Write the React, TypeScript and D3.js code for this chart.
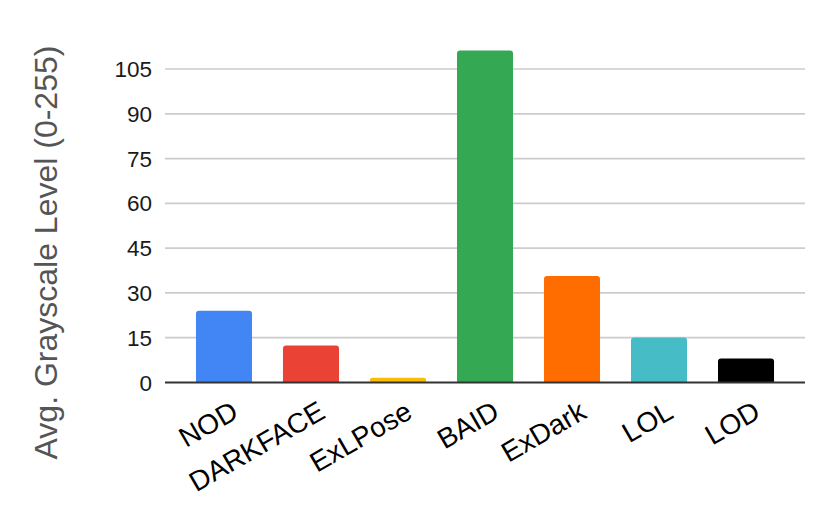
import React from "react";
import * as d3 from "d3";

const categories = ["NOD", "DARKFACE", "ExLPose", "BAID", "ExDark", "LOL", "LOD"];
const values = [24.0, 12.4, 1.6, 111.2, 35.7, 15.1, 8.0];
const colors = ["#4285F4", "#EA4335", "#FBBC04", "#34A853", "#FF6D01", "#46BDC6", "#000000"];
const yTicks = [0, 15, 30, 45, 60, 75, 90, 105];
const yTitle = "Avg. Grayscale Level (0-255)";

const W = 830;
const H = 512;
const left = 165;
const right = 805;
const y0 = 382.5;

function roundedTopBar(x: number, y: number, w: number, h: number, r: number) {
  const rr = Math.min(r, h / 2, w / 2);
  const p = d3.path();
  p.moveTo(x, y + h);
  p.lineTo(x, y + rr);
  p.quadraticCurveTo(x, y, x + rr, y);
  p.lineTo(x + w - rr, y);
  p.quadraticCurveTo(x + w, y, x + w, y + rr);
  p.lineTo(x + w, y + h);
  p.closePath();
  return p.toString();
}

export default function App() {
  const x = d3.scaleBand<string>().domain(categories).range([left, right]).paddingInner(0.356).paddingOuter(0.356);
  const y = d3.scaleLinear().domain([0, 105]).range([y0, 69]);

  return (
    <svg
      width={W}
      height={H}
      style={{ position: "absolute", left: 0, top: 0, background: "#fff" }}
      fontFamily="'Liberation Sans', Arial, sans-serif"
    >
      <rect x={0} y={0} width={W} height={H} fill="#fff" />
      {yTicks.filter((t) => t !== 0).map((t) => (
        <line key={"g" + t} x1={left} x2={right} y1={y(t)} y2={y(t)} stroke="#cccccc" strokeWidth={1.7} />
      ))}
      {yTicks.map((t) => (
        <text key={"t" + t} x={152} y={y(t)} dy="0.36em" textAnchor="end" fontSize={22.5} fill="#1a1a1a">
          {t}
        </text>
      ))}
      {categories.map((c, i) => {
        const bx = x(c)!;
        const by = y(values[i]);
        return (
          <path key={c} d={roundedTopBar(bx, by, x.bandwidth(), y0 - by, 3)} fill={colors[i]} />
        );
      })}
      <line x1={left} x2={right} y1={y0} y2={y0} stroke="#333" strokeWidth={2} />
      {categories.map((c) => {
        const cx = x(c)! + x.bandwidth() / 2;
        return (
          <text
            key={"l" + c}
            transform={`translate(${cx + 16},${417}) rotate(-30)`}
            textAnchor="end"
            fontSize={28}
            fill="#000"
          >
            {c}
          </text>
        );
      })}
      <text
        transform={`translate(57,${252.5}) rotate(-90)`}
        textAnchor="middle"
        fontSize={32}
        fill="#555"
      >
        {yTitle}
      </text>
    </svg>
  );
}
